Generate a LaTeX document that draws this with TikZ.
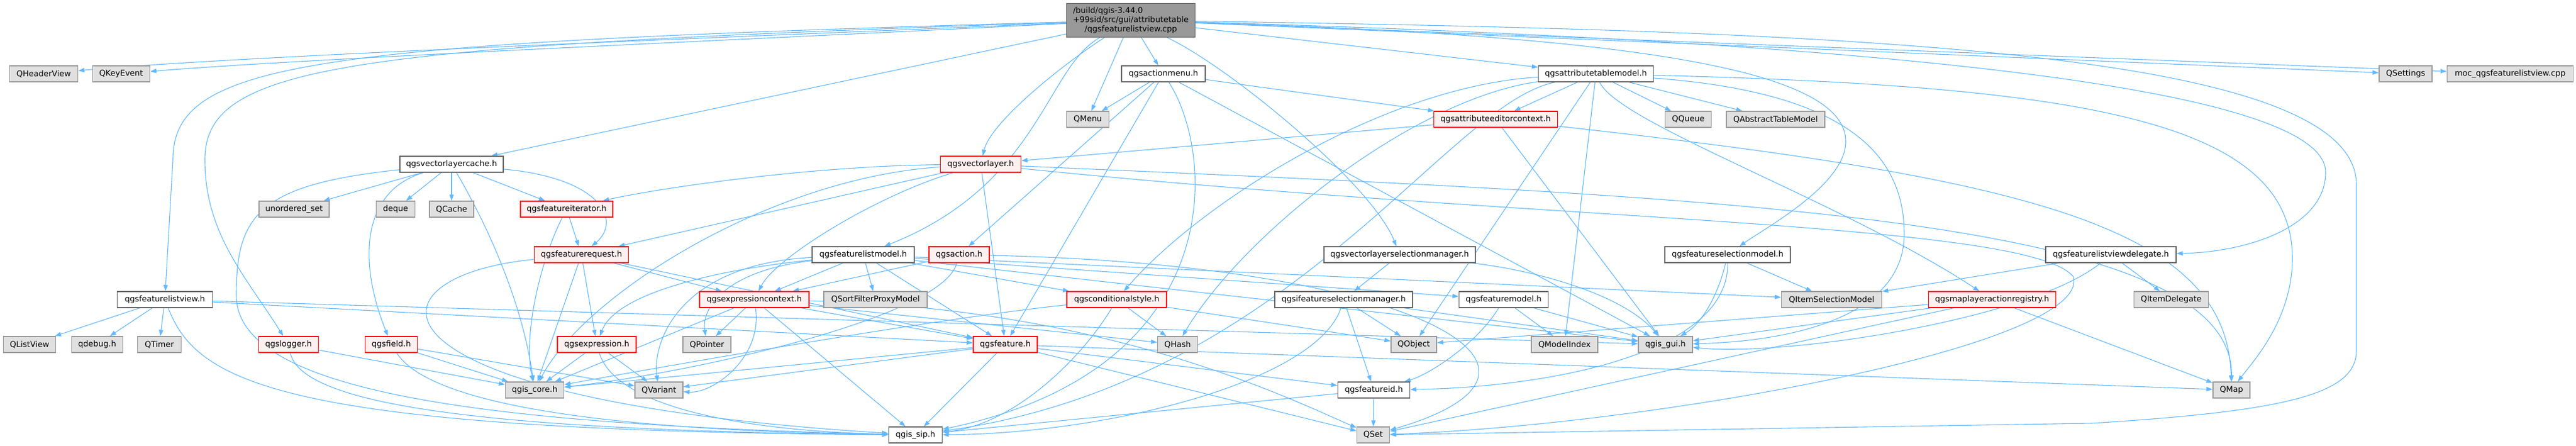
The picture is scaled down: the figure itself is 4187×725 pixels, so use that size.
\documentclass[tikz,border=0pt]{standalone}
\usepackage{fontspec}
\setmainfont{DejaVu Sans}
\usetikzlibrary{arrows.meta}
\definecolor{edgec}{HTML}{63B8FF}
\definecolor{extfill}{HTML}{E0E0E0}
\definecolor{extdraw}{HTML}{999999}
\definecolor{locdraw}{HTML}{666666}
\definecolor{hdrfill}{HTML}{FFF0F0}
\definecolor{rootfill}{HTML}{999999}
\newlength\rtw
\pgfdeclarelayer{edgelayer}
\pgfsetlayers{edgelayer,main}
\begin{document}
\begin{tikzpicture}[x=1pt,y=-1pt,
  base/.style={draw, line width=1.4pt, minimum height=26pt, inner xsep=1pt, inner ysep=0pt, font=\fontsize{13}{15}\selectfont, anchor=center},
  ext/.style={base, fill=extfill, draw=extdraw},
  loc/.style={base, fill=white, draw=locdraw},
  hdr/.style={base, fill=hdrfill, draw=red},
  rootst/.style={base, fill=rootfill, draw=locdraw, align=center},
  e/.style={draw=edgec, line width=1.1pt, -{Triangle[length=10pt,width=7pt]}}]
\useasboundingbox (0,0) rectangle (4187,725);
% nodes
\node[rootst, minimum width=209pt, minimum height=55pt] (root) at (1838,33) {\settowidth{\rtw}{+99sid/src/gui/attributetable}\makebox[\rtw][l]{/build/qgis-3.44.0}\\+99sid/src/gui/attributetable\\/qgsfeaturelistview.cpp};
\node[ext, minimum width=111pt] (nqhv) at (71,120) {QHeaderView};
\node[ext, minimum width=93pt] (nqke) at (197,120) {QKeyEvent};
\node[loc, minimum width=136pt] (nam) at (1891,120) {qgsactionmenu.h};
\node[loc, minimum width=187pt] (natm) at (2594,120) {qgsattributetablemodel.h};
\node[ext, minimum width=86pt] (nqsettings) at (3910,120) {QSettings};
\node[ext, minimum width=205pt] (nmoc) at (4080,120) {moc\_qgsfeaturelistview.cpp};
\node[ext, minimum width=69pt] (nqmenu) at (1768,194) {QMenu};
\node[hdr, minimum width=201pt] (naec) at (2431,194) {qgsattributeeditorcontext.h};
\node[ext, minimum width=75pt] (nqqueue) at (2744,194) {QQueue};
\node[ext, minimum width=160pt] (nqatm) at (2886,194) {QAbstractTableModel};
\node[loc, minimum width=168pt] (nvlc) at (734,267) {qgsvectorlayercache.h};
\node[hdr, minimum width=131pt] (nvl) at (1594,267) {qgsvectorlayer.h};
\node[ext, minimum width=114pt] (nuset) at (478,340) {unordered\_set};
\node[ext, minimum width=63pt] (ndeque) at (643,340) {deque};
\node[ext, minimum width=72pt] (nqcache) at (734,340) {QCache};
\node[hdr, minimum width=150pt] (nfi) at (921,340) {qgsfeatureiterator.h};
\node[hdr, minimum width=153pt] (nfr) at (945,414) {qgsfeaturerequest.h};
\node[loc, minimum width=166pt] (nflm) at (1403,414) {qgsfeaturelistmodel.h};
\node[hdr, minimum width=98pt] (nact) at (1559,414) {qgsaction.h};
\node[loc, minimum width=246pt] (nvlsm) at (2275,414) {qgsvectorlayerselectionmanager.h};
\node[loc, minimum width=204pt] (nfsm) at (2808,414) {qgsfeatureselectionmodel.h};
\node[loc, minimum width=212pt] (ndel) at (3431,414) {qgsfeaturelistviewdelegate.h};
\node[loc, minimum width=155pt] (nflv) at (268,487) {qgsfeaturelistview.h};
\node[hdr, minimum width=178pt] (nec) at (1226,487) {qgsexpressioncontext.h};
\node[ext, minimum width=168pt] (nqsfpm) at (1423,487) {QSortFilterProxyModel};
\node[hdr, minimum width=162pt] (ncs) at (1815,487) {qgsconditionalstyle.h};
\node[loc, minimum width=224pt] (nifsm) at (2184,487) {qgsifeatureselectionmanager.h};
\node[loc, minimum width=145pt] (nfm) at (2444,487) {qgsfeaturemodel.h};
\node[ext, minimum width=163pt] (nqism) at (2977,487) {QItemSelectionModel};
\node[hdr, minimum width=207pt] (nmlar) at (3238,487) {qgsmaplayeractionregistry.h};
\node[ext, minimum width=121pt] (nqid) at (3529,487) {QItemDelegate};
\node[ext, minimum width=85pt] (nqlv) at (48,560) {QListView};
\node[ext, minimum width=83pt] (nqdbg) at (158,560) {qdebug.h};
\node[ext, minimum width=71pt] (nqtimer) at (259,560) {QTimer};
\node[hdr, minimum width=97pt] (nlog) at (469,560) {qgslogger.h};
\node[hdr, minimum width=85pt] (nfld) at (636,560) {qgsfield.h};
\node[hdr, minimum width=128pt] (nexp) at (970,560) {qgsexpression.h};
\node[ext, minimum width=78pt] (nqptr) at (1149,560) {QPointer};
\node[hdr, minimum width=104pt] (nfeat) at (1634,560) {qgsfeature.h};
\node[ext, minimum width=65pt] (nqhash) at (1914,560) {QHash};
\node[ext, minimum width=74pt] (nqobj) at (2298,560) {QObject};
\node[ext, minimum width=108pt] (nqmi) at (2543,560) {QModelIndex};
\node[ext, minimum width=88pt] (ngui) at (2707,560) {qgis\_gui.h};
\node[ext, minimum width=95pt] (ncore) at (869,634) {qgis\_core.h};
\node[ext, minimum width=78pt] (nqvar) at (1071,634) {QVariant};
\node[loc, minimum width=117pt] (nfid) at (2233,634) {qgsfeatureid.h};
\node[ext, minimum width=60pt] (nqmap) at (3627,634) {QMap};
\node[loc, minimum width=87pt] (nsip) at (1488,707) {qgis\_sip.h};
\node[ext, minimum width=53pt] (nqset) at (2232,707) {QSet};
\begin{pgfonlayer}{edgelayer}
% root edges
\draw[e] (root) .. controls (1200,60) and (400,90) .. (nqhv);
\draw[e] (root) .. controls (1200,65) and (500,95) .. (nqke);
\draw[e] (root) .. controls (500,70) and (281,100) .. (281,260) -- (nflv);
\draw[e] (root) .. controls (560,75) and (333,105) .. (333,260) .. controls (333,380) and (400,450) .. (nlog);
\draw[e] (root) -- (nvlc);
\draw[e] (root) .. controls (1720,110) and (1610,200) .. (nvl);
\draw[e] (root) .. controls (1700,110) and (1690,300) .. (nflm);
\draw[e] (root) -- (nqmenu);
\draw[e] (root) -- (nam);
\draw[e] (root) .. controls (2000,110) and (2230,300) .. (nvlsm);
\draw[e] (root) -- (natm);
\draw[e] (root) .. controls (2700,60) and (3000,120) .. (3000,230) .. controls (3000,300) and (2870,370) .. (nfsm);
\draw[e] (root) .. controls (2800,60) and (3780,120) .. (3780,280) .. controls (3780,370) and (3650,410) .. (ndel);
\draw[e] (root) -- (nqsettings);
\draw[e] (root) -- (nmoc);
\draw[e] (root) .. controls (3000,50) and (3830,80) .. (3830,300) -- (3830,570) .. controls (3830,640) and (3720,668) .. (3400,688) -- (nqset);
% featurelistview
\draw[e] (nflv) -- (nqlv);
\draw[e] (nflv) -- (nqdbg);
\draw[e] (nflv) -- (nqtimer);
\draw[e] (nflv) .. controls (320,620) and (450,700) .. (nsip);
\draw[e] (nflv) -- (nfeat);
\draw[e] (nflv) -- (ngui);
% vectorlayercache
\draw[e] (nvlc) -- (nuset);
\draw[e] (nvlc) -- (ndeque);
\draw[e] (nvlc) -- (nqcache);
\draw[e] (nvlc) -- (nfi);
\draw[e] (nvlc) .. controls (590,310) and (580,420) .. (nfld);
\draw[e] (nvlc) .. controls (800,380) and (850,500) .. (ncore);
\draw[e] (nvlc) .. controls (980,290) and (1010,360) .. (nfr);
\draw[e] (nvlc) .. controls (420,300) and (384,350) .. (384,480) .. controls (384,640) and (800,690) .. (nsip);
% featureiterator / request
\draw[e] (nfi) -- (nfr);
\draw[e] (nfi) .. controls (880,420) and (850,540) .. (ncore);
\draw[e] (nfr) -- (ncore);
\draw[e] (nfr) -- (nexp);
\draw[e] (nfr) -- (nec);
\draw[e] (nfr) -- (nfeat);
\draw[e] (nfr) .. controls (580,450) and (570,650) .. (nsip);
% logger, field, expression
\draw[e] (nlog) -- (ncore);
\draw[e] (nlog) .. controls (490,660) and (800,700) .. (nsip);
\draw[e] (nfld) -- (ncore);
\draw[e] (nfld) -- (nqvar);
\draw[e] (nfld) .. controls (700,660) and (1000,700) .. (nsip);
\draw[e] (nexp) -- (ncore);
\draw[e] (nexp) -- (nqvar);
\draw[e] (nexp) .. controls (1000,660) and (1200,700) .. (nsip);
% vectorlayer
\draw[e] (nvl) .. controls (1300,270) and (1050,310) .. (nfi);
\draw[e] (nvl) -- (nfr);
\draw[e] (nvl) .. controls (1420,320) and (1260,420) .. (nec);
\draw[e] (nvl) -- (nfeat);
\draw[e] (nvl) .. controls (1250,290) and (950,480) .. (ncore);
\draw[e] (nvl) .. controls (2800,320) and (3630,350) .. (nqmap);
\draw[e] (nvl) .. controls (2500,360) and (3300,360) .. (3370,450) .. controls (3400,560) and (2700,690) .. (nqset);
% actionmenu
\draw[e] (nam) -- (nqmenu);
\draw[e] (nam) -- (nact);
\draw[e] (nam) -- (nfeat);
\draw[e] (nam) -- (naec);
\draw[e] (nam) -- (ngui);
\draw[e] (nam) .. controls (1975,250) and (2000,600) .. (nsip);
% attributetablemodel
\draw[e] (natm) -- (naec);
\draw[e] (natm) -- (nqqueue);
\draw[e] (natm) -- (nqatm);
\draw[e] (natm) .. controls (2630,200) and (3000,330) .. (nmlar);
\draw[e] (natm) -- (nqmi);
\draw[e] (natm) -- (nqobj);
\draw[e] (natm) .. controls (2250,140) and (1950,330) .. (ncs);
\draw[e] (natm) .. controls (2300,160) and (2020,380) .. (nqhash);
\draw[e] (natm) .. controls (2350,170) and (2100,620) .. (nsip);
\draw[e] (natm) .. controls (3400,140) and (3726,200) .. (3726,420) .. controls (3726,520) and (3660,590) .. (nqmap);
\draw[e] (natm) .. controls (3000,150) and (3095,250) .. (3095,380) .. controls (3095,520) and (2900,555) .. (ngui);
% attributeeditorcontext
\draw[e] (naec) -- (nvl);
\draw[e] (naec) .. controls (3300,290) and (3620,370) .. (nqmap);
\draw[e] (naec) -- (ngui);
% featurelistmodel
\draw[e] (nflm) -- (nec);
\draw[e] (nflm) -- (nqsfpm);
\draw[e] (nflm) -- (nfeat);
\draw[e] (nflm) -- (ncs);
\draw[e] (nflm) -- (nfm);
\draw[e] (nflm) -- (nqism);
\draw[e] (nflm) -- (ngui);
\draw[e] (nflm) .. controls (1180,440) and (1140,500) .. (nqptr);
\draw[e] (nflm) .. controls (1100,430) and (1060,560) .. (nqvar);
\draw[e] (nflm) .. controls (1150,440) and (1000,480) .. (nexp);
% action
\draw[e] (nact) -- (nec);
\draw[e] (nact) .. controls (1530,520) and (1100,610) .. (ncore);
\draw[e] (nact) .. controls (2300,430) and (2600,600) .. (nqset);
% expressioncontext
\draw[e] (nec) -- (nqptr);
\draw[e] (nec) -- (nsip);
\draw[e] (nec) -- (nfeat);
\draw[e] (nec) -- (nqhash);
\draw[e] (nec) .. controls (1240,580) and (1160,640) .. (nqvar);
\draw[e] (nec) -- (ncore);
\draw[e] (nec) .. controls (1800,500) and (2100,650) .. (nqset);
% conditionalstyle
\draw[e] (ncs) -- (nqhash);
\draw[e] (ncs) -- (nqobj);
\draw[e] (ncs) .. controls (1500,520) and (1000,610) .. (ncore);
\draw[e] (ncs) .. controls (1760,580) and (1650,690) .. (nsip);
% feature
\draw[e] (nfeat) -- (ncore);
\draw[e] (nfeat) -- (nqvar);
\draw[e] (nfeat) -- (nsip);
\draw[e] (nfeat) -- (nqmap);
\draw[e] (nfeat) -- (nfid);
\draw[e] (nfeat) -- (nqset);
% selection managers and models
\draw[e] (nvlsm) -- (nifsm);
\draw[e] (nvlsm) .. controls (2500,440) and (2640,480) .. (ngui);
\draw[e] (nifsm) -- (nqobj);
\draw[e] (nifsm) -- (nfid);
\draw[e] (nifsm) -- (ngui);
\draw[e] (nifsm) .. controls (2140,620) and (1800,705) .. (nsip);
\draw[e] (nfm) -- (nqmi);
\draw[e] (nfm) -- (ngui);
\draw[e] (nfm) .. controls (2400,560) and (2320,610) .. (nfid);
\draw[e] (nfsm) -- (nqism);
\draw[e] (nfsm) .. controls (2790,490) and (2760,530) .. (ngui);
\draw[e] (nfsm) .. controls (2810,580) and (2500,630) .. (nfid);
\draw[e] (nfid) -- (nqset);
\draw[e] (nfid) -- (nsip);
% map layer action registry
\draw[e] (nmlar) -- (nqobj);
\draw[e] (nmlar) -- (ngui);
\draw[e] (nmlar) -- (nqmap);
\draw[e] (nmlar) -- (nqset);
% delegate
\draw[e] (ndel) -- (nqism);
\draw[e] (ndel) -- (nqid);
\draw[e] (ndel) .. controls (3300,520) and (2900,580) .. (ngui);
\end{pgfonlayer}
\end{tikzpicture}
\end{document}
